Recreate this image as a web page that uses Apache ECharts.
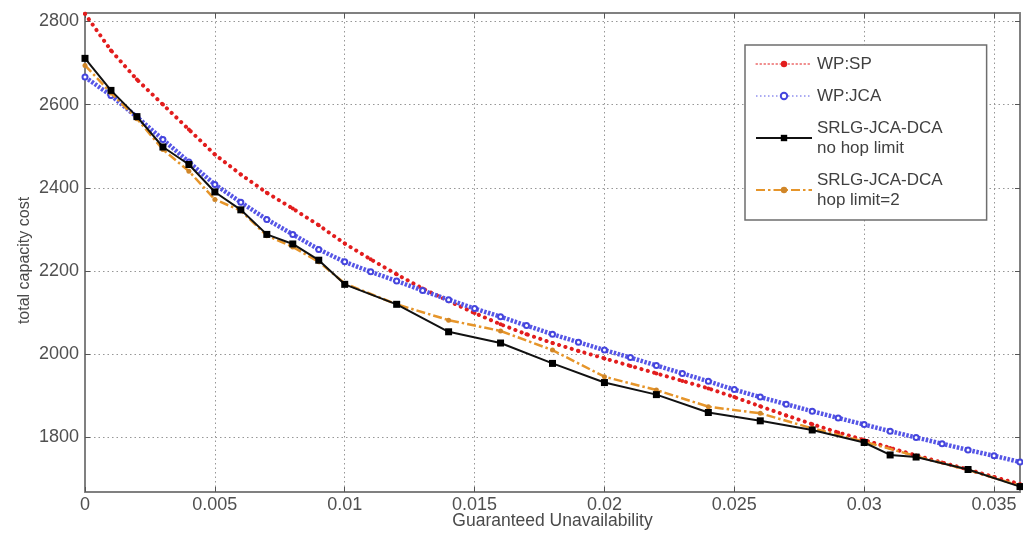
<!DOCTYPE html>
<html>
<head>
<meta charset="utf-8">
<script src="https://cdn.jsdelivr.net/npm/echarts@6/dist/echarts.min.js"></script>
<style>
  html, body { margin: 0; padding: 0; background: #ffffff; }
  #chart { width: 1023px; height: 543px; }
</style>
</head>
<body>
<div id="chart"></div>
<script>
// Tick positions on both axes
const xTicks = [0, 0.005, 0.01, 0.015, 0.02, 0.025, 0.03, 0.035];
const yTicks = [1800, 2000, 2200, 2400, 2600, 2800];

// Guaranteed unavailability grid for the two WP curves
const wpX = [0, 0.001, 0.002, 0.003, 0.004, 0.005, 0.006, 0.007, 0.008, 0.009,
             0.010, 0.011, 0.012, 0.013, 0.014, 0.015, 0.016, 0.017, 0.018, 0.019,
             0.020, 0.021, 0.022, 0.023, 0.024, 0.025, 0.026, 0.027, 0.028, 0.029,
             0.030, 0.031, 0.032, 0.033, 0.034, 0.035, 0.036];

// WP:SP total capacity cost
const wpSp = [2818, 2730, 2660, 2600, 2540, 2480, 2432, 2388, 2350, 2310,
              2266, 2228, 2192, 2158, 2128, 2099, 2072, 2048, 2027, 2008,
              1990, 1972, 1954, 1936, 1918, 1897, 1875, 1853, 1832, 1812,
              1794, 1775, 1757, 1740, 1723, 1705, 1688];

// WP:JCA total capacity cost
const wpJca = [2666, 2622, 2570, 2516, 2462, 2408, 2365, 2324, 2288, 2252,
               2222, 2198, 2176, 2153, 2131, 2110, 2090, 2069, 2048, 2029,
               2010, 1992, 1973, 1954, 1935, 1915, 1897, 1880, 1863, 1847,
               1831, 1815, 1800, 1785, 1770, 1756, 1741];

// SRLG-JCA-DCA, no hop limit
const noHopX = [0, 0.001, 0.002, 0.003, 0.004, 0.005, 0.006, 0.007, 0.008, 0.009,
                0.010, 0.012, 0.014, 0.016, 0.018, 0.020, 0.022, 0.024, 0.026, 0.028,
                0.030, 0.031, 0.032, 0.034, 0.036];
const noHop = [2711, 2634, 2571, 2498, 2456, 2390, 2347, 2288, 2265, 2226,
               2168, 2120, 2054, 2027, 1978, 1932, 1903, 1860, 1840, 1818,
               1788, 1758, 1753, 1723, 1682];

// SRLG-JCA-DCA, hop limit = 2
const hop2X = [0, 0.001, 0.002, 0.003, 0.004, 0.005, 0.006, 0.007, 0.008, 0.009,
               0.010, 0.012, 0.014, 0.016, 0.018, 0.020, 0.022, 0.024, 0.026, 0.028,
               0.030, 0.032, 0.034, 0.036];
const hop2 = [2694, 2628, 2566, 2492, 2440, 2372, 2345, 2285, 2258, 2222,
              2170, 2120, 2082, 2056, 2010, 1946, 1914, 1874, 1858, 1822,
              1790, 1755, 1722, 1684];

const pairs = (xs, ys) => xs.map((x, i) => [x, ys[i]]);

const FONT = "'Liberation Sans', Arial, Helvetica, sans-serif";
const FRAME = '#808080';
const GRIDLINE = { color: '#979797', width: 1, type: [1.5, 3] };

const chart = echarts.init(document.getElementById('chart'), null, { renderer: 'canvas' });

chart.setOption({
  animation: false,
  backgroundColor: '#ffffff',
  grid: { left: 85, right: 3, top: 13, bottom: 51, containLabel: false },
  xAxis: [
    {
      type: 'value', position: 'bottom', min: 0, max: 0.036,
      name: 'Guaranteed Unavailability', nameLocation: 'middle', nameGap: 20,
      nameMoveOverlap: false,
      nameTextStyle: { fontFamily: FONT, fontSize: 17.5, color: '#4a4a4a' },
      axisLine: { show: true, onZero: false, lineStyle: { color: FRAME, width: 2 } },
      axisTick: { show: true, inside: true, length: 5, customValues: xTicks, lineStyle: { color: '#555' } },
      axisLabel: { customValues: xTicks, formatter: v => String(v), fontFamily: FONT, fontSize: 18, color: '#505050', margin: 4 },
      splitLine: { show: true, lineStyle: GRIDLINE }
    },
    {
      type: 'value', position: 'top', min: 0, max: 0.036,
      axisLine: { show: true, onZero: false, lineStyle: { color: FRAME, width: 2 } },
      axisTick: { show: true, inside: true, length: 5, customValues: xTicks, lineStyle: { color: '#555' } },
      axisLabel: { show: false },
      splitLine: { show: false }
    }
  ],
  yAxis: [
    {
      type: 'value', position: 'left', min: 1669, max: 2820,
      name: 'total capacity cost', nameLocation: 'middle', nameGap: 52,
      nameMoveOverlap: false,
      nameTextStyle: { fontFamily: FONT, fontSize: 16, color: '#4a4a4a', padding: [0, 16, 0, 0] },
      axisLine: { show: true, onZero: false, lineStyle: { color: FRAME, width: 2 } },
      axisTick: { show: true, inside: true, length: 5, customValues: yTicks, lineStyle: { color: '#555' } },
      axisLabel: { customValues: yTicks, formatter: v => String(v), fontFamily: FONT, fontSize: 18, color: '#505050', margin: 6 },
      splitLine: { show: true, lineStyle: GRIDLINE }
    },
    {
      type: 'value', position: 'right', min: 1669, max: 2820,
      axisLine: { show: true, onZero: false, lineStyle: { color: FRAME, width: 2 } },
      axisTick: { show: true, inside: true, length: 5, customValues: yTicks, lineStyle: { color: '#555' } },
      axisLabel: { show: false },
      splitLine: { show: false }
    }
  ],
  legend: {
    orient: 'vertical', left: 745, top: 45,
    padding: [9, 44, 10, 10],
    itemWidth: 56, itemHeight: 8, itemGap: 12,
    backgroundColor: '#ffffff', borderColor: '#6e6e6e', borderWidth: 1.5, borderRadius: 0,
    textStyle: { fontFamily: FONT, fontSize: 17, lineHeight: 20, color: '#404040' },
    data: [
      { name: 'WP:SP', lineStyle: { width: 1, type: [1.5, 2.5] } },
      { name: 'WP:JCA', lineStyle: { width: 1, type: [1.5, 2.5] } },
      { name: 'SRLG-JCA-DCA\nno hop limit' },
      { name: 'SRLG-JCA-DCA\nhop limit=2' }
    ]
  },
  series: [
    {
      name: 'WP:SP', type: 'line', xAxisIndex: 0, yAxisIndex: 0,
      data: pairs(wpX, wpSp),
      symbol: 'circle', symbolSize: 4, showSymbol: true,
      itemStyle: { color: '#e21d1d' },
      lineStyle: { color: '#e21d1d', width: 4, type: [0.1, 6.5], cap: 'round' },
      z: 2
    },
    {
      name: 'WP:JCA', type: 'line', xAxisIndex: 0, yAxisIndex: 0,
      data: pairs(wpX, wpJca),
      symbol: 'emptyCircle', symbolSize: 5, showSymbol: true,
      itemStyle: { color: '#4545dd', borderWidth: 1 },
      lineStyle: { color: '#5656e6', width: 4.5, type: [2.5, 1.5] },
      z: 3
    },
    {
      name: 'SRLG-JCA-DCA\nhop limit=2', type: 'line', xAxisIndex: 0, yAxisIndex: 0,
      data: pairs(hop2X, hop2),
      symbol: 'circle', symbolSize: 5, showSymbol: true,
      itemStyle: { color: '#d08628' },
      lineStyle: { color: '#e6952a', width: 2.5, type: [9, 3, 2.5, 3] },
      z: 4
    },
    {
      name: 'SRLG-JCA-DCA\nno hop limit', type: 'line', xAxisIndex: 0, yAxisIndex: 0,
      data: pairs(noHopX, noHop),
      symbol: 'rect', symbolSize: 7, showSymbol: true,
      itemStyle: { color: '#000000' },
      lineStyle: { color: '#111111', width: 2 },
      z: 5
    }
  ]
});
</script>
</body>
</html>
